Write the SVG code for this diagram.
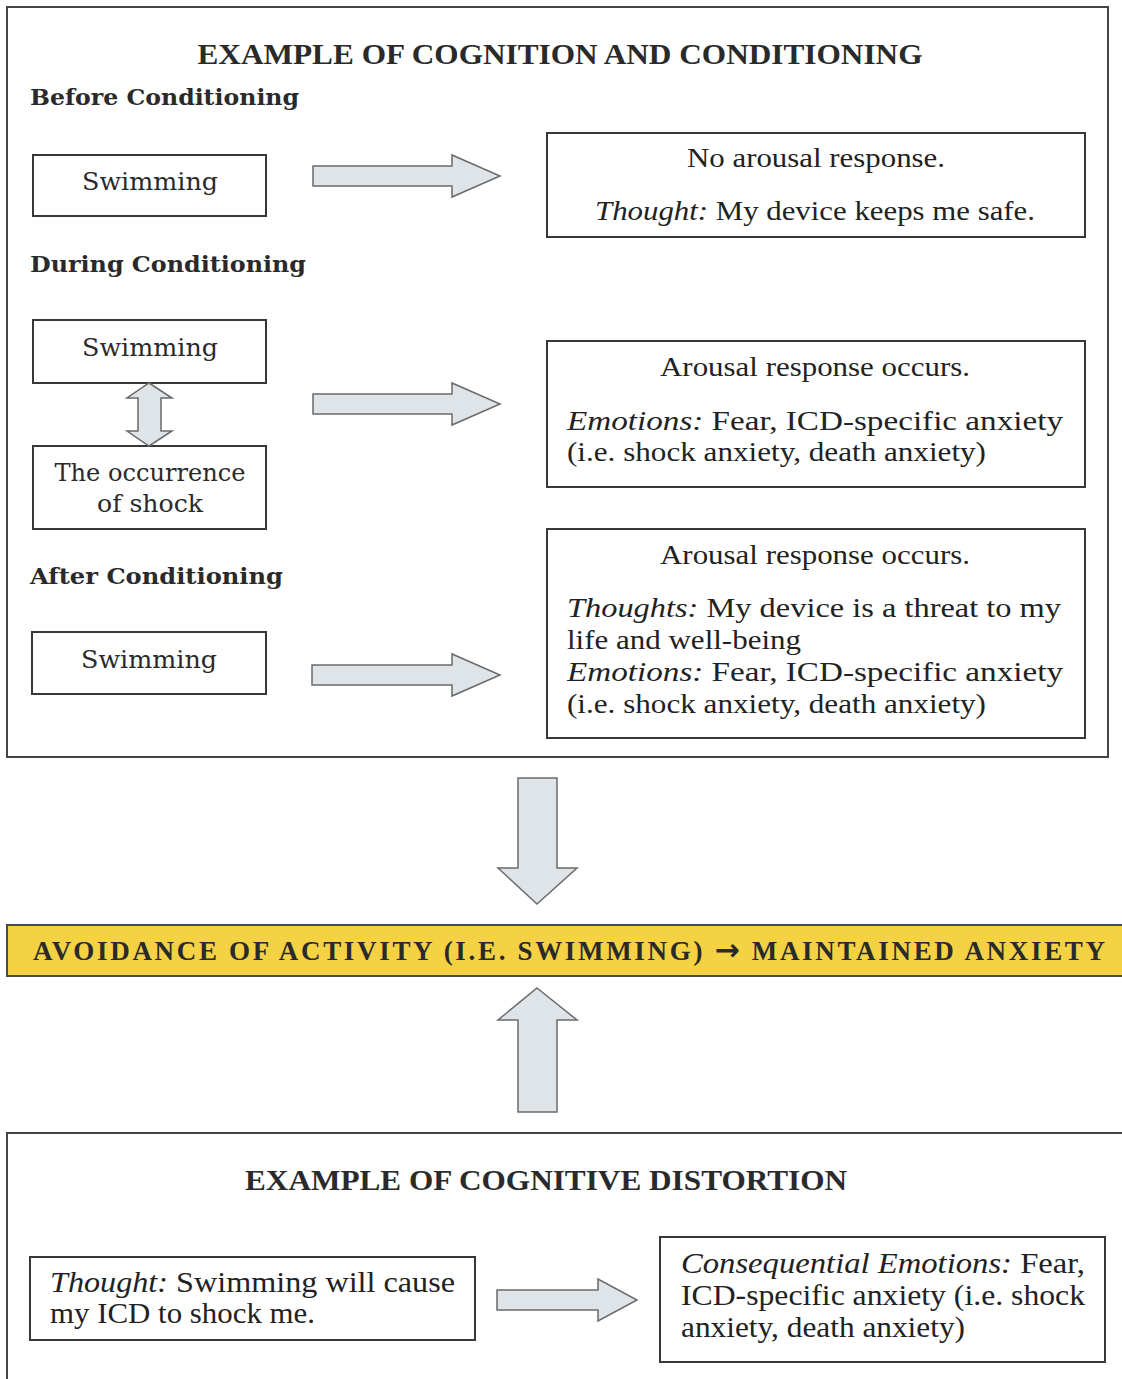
<svg xmlns="http://www.w3.org/2000/svg" width="1122" height="1379" viewBox="0 0 1122 1379">
<style>
.frame{fill:#ffffff;stroke:#454545;stroke-width:2}
.box{fill:#ffffff;stroke:#383838;stroke-width:2}
.arrow{fill:#dfe4e8;stroke:#6a6a6a;stroke-width:1.5;stroke-linejoin:miter}
.bar{fill:#f4d243;stroke:#4a4a4a;stroke-width:2}
.t{font-family:"Times New Roman","Liberation Serif",serif;font-size:27px;fill:#222}
.tb{font-family:"Times New Roman","Liberation Serif",serif;font-size:29px;fill:#222}
.i{font-style:italic}
.title{font-family:"Times New Roman","Liberation Serif",serif;font-weight:bold;font-size:30px;fill:#2a2a2a}
.head{font-family:"DejaVu Serif",serif;font-weight:bold;font-size:22px;fill:#2a2a2a}
.sw{font-family:"DejaVu Serif",serif;font-size:24px;fill:#2a2a2a}
.bart{font-family:"Times New Roman","Liberation Serif",serif;font-weight:bold;font-size:27px;fill:#2a2a2a}
.arr{font-family:"DejaVu Sans",sans-serif;font-weight:bold;font-size:30px}
</style>
<rect width="1122" height="1379" fill="#ffffff"/>

<g id="frame-conditioning">
<rect class="frame" x="7" y="7" width="1101" height="750"/>
<text class="title" x="560" y="64" text-anchor="middle" textLength="725" lengthAdjust="spacingAndGlyphs">EXAMPLE OF COGNITION AND CONDITIONING</text>
<text class="head" x="30" y="105" textLength="269" lengthAdjust="spacingAndGlyphs">Before Conditioning</text>
<text class="head" x="30" y="272" textLength="276" lengthAdjust="spacingAndGlyphs">During Conditioning</text>
<text class="head" x="30" y="584" textLength="253" lengthAdjust="spacingAndGlyphs">After Conditioning</text>
</g>

<g id="before-swimming">
<rect class="box" x="33" y="155" width="233" height="61"/>
<text class="sw" x="150" y="190" text-anchor="middle" textLength="136" lengthAdjust="spacingAndGlyphs">Swimming</text>
</g>

<g id="before-response">
<rect class="box" x="547" y="133" width="538" height="104"/>
<text class="t" x="816" y="167" text-anchor="middle" textLength="258" lengthAdjust="spacingAndGlyphs">No arousal response.</text>
<text class="t" x="815" y="220" text-anchor="middle" textLength="440" lengthAdjust="spacingAndGlyphs"><tspan class="i">Thought:</tspan> My device keeps me safe.</text>
</g>

<g id="during-swimming">
<rect class="box" x="33" y="320" width="233" height="63"/>
<text class="sw" x="150" y="356" text-anchor="middle" textLength="136" lengthAdjust="spacingAndGlyphs">Swimming</text>
</g>

<g id="during-shock">
<rect class="box" x="33" y="446" width="233" height="83"/>
<text class="sw" x="150" y="481" text-anchor="middle" textLength="191" lengthAdjust="spacingAndGlyphs">The occurrence</text>
<text class="sw" x="150" y="512" text-anchor="middle" textLength="106" lengthAdjust="spacingAndGlyphs">of shock</text>
</g>

<g id="during-response">
<rect class="box" x="547" y="341" width="538" height="146"/>
<text class="t" x="815" y="376" text-anchor="middle" textLength="310" lengthAdjust="spacingAndGlyphs">Arousal response occurs.</text>
<text class="t" x="567" y="430" textLength="496" lengthAdjust="spacingAndGlyphs"><tspan class="i">Emotions:</tspan>  Fear,  ICD-specific  anxiety</text>
<text class="t" x="567" y="461" textLength="419" lengthAdjust="spacingAndGlyphs">(i.e. shock anxiety, death anxiety)</text>
</g>

<g id="after-swimming">
<rect class="box" x="32" y="632" width="234" height="62"/>
<text class="sw" x="149" y="668" text-anchor="middle" textLength="136" lengthAdjust="spacingAndGlyphs">Swimming</text>
</g>

<g id="after-response">
<rect class="box" x="547" y="529" width="538" height="209"/>
<text class="t" x="815" y="564" text-anchor="middle" textLength="310" lengthAdjust="spacingAndGlyphs">Arousal response occurs.</text>
<text class="t" x="567" y="617" textLength="494" lengthAdjust="spacingAndGlyphs"><tspan class="i">Thoughts:</tspan> My device is a threat to my</text>
<text class="t" x="567" y="649" textLength="234" lengthAdjust="spacingAndGlyphs">life and well-being</text>
<text class="t" x="567" y="681" textLength="496" lengthAdjust="spacingAndGlyphs"><tspan class="i">Emotions:</tspan>  Fear,  ICD-specific  anxiety</text>
<text class="t" x="567" y="713" textLength="419" lengthAdjust="spacingAndGlyphs">(i.e. shock anxiety, death anxiety)</text>
</g>

<g id="avoidance-bar">
<rect class="bar" x="7" y="925" width="1125" height="51"/>
<text class="bart" x="33" y="960" textLength="1072" lengthAdjust="spacing">AVOIDANCE OF ACTIVITY (I.E. SWIMMING) <tspan class="arr">→</tspan> MAINTAINED ANXIETY</text>
</g>

<g id="frame-distortion">
<rect class="frame" x="7" y="1133" width="1130" height="260"/>
<text class="title" x="546" y="1190" text-anchor="middle" font-size="32" textLength="602" lengthAdjust="spacingAndGlyphs">EXAMPLE OF COGNITIVE DISTORTION</text>
</g>

<g id="distortion-thought">
<rect class="box" x="30" y="1257" width="445" height="83"/>
<text class="tb" x="50" y="1292" textLength="405" lengthAdjust="spacingAndGlyphs"><tspan class="i">Thought:</tspan> Swimming  will  cause</text>
<text class="tb" x="50" y="1323" textLength="265" lengthAdjust="spacingAndGlyphs">my ICD to shock me.</text>
</g>

<g id="distortion-emotions">
<rect class="box" x="660" y="1237" width="445" height="125"/>
<text class="tb" x="681" y="1273" textLength="404" lengthAdjust="spacingAndGlyphs"><tspan class="i">Consequential  Emotions:</tspan>  Fear,</text>
<text class="tb" x="681" y="1305" textLength="404" lengthAdjust="spacingAndGlyphs">ICD-specific anxiety (i.e. shock</text>
<text class="tb" x="681" y="1337" textLength="284" lengthAdjust="spacingAndGlyphs">anxiety, death anxiety)</text>
</g>

<g id="connectors">
<polygon class="arrow" points="313,166 452,166 452,155 500,176 452,197 452,186 313,186"/>
<polygon class="arrow" points="149,383 172,398 161,398 161,431 172,431 149,446 127,431 138,431 138,398 127,398"/>
<polygon class="arrow" points="313,394 452,394 452,383 500,404 452,425 452,414 313,414"/>
<polygon class="arrow" points="312,665 452,665 452,654 500,675 452,696 452,685 312,685"/>
<polygon class="arrow" points="518,778 557,778 557,868 577,868 537,904 498,868 518,868"/>
<polygon class="arrow" points="537,988 577,1020 557,1020 557,1112 518,1112 518,1020 498,1020"/>
<polygon class="arrow" points="497,1290 598,1290 598,1279 637,1300 598,1321 598,1310 497,1310"/>
</g>
</svg>
